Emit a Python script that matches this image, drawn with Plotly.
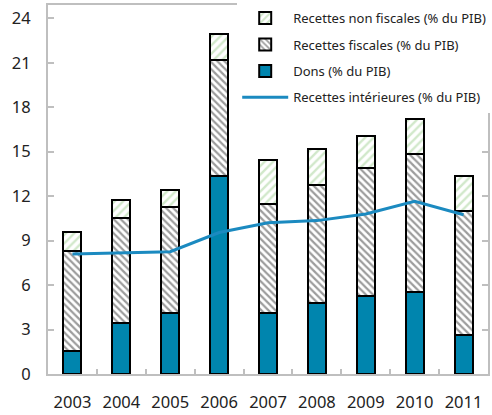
import plotly.graph_objects as go

# Recettes et dons, en % du PIB
annees = ["2003", "2004", "2005", "2006", "2007", "2008", "2009", "2010", "2011"]
dons = [1.55, 3.42, 4.13, 13.35, 4.13, 4.81, 5.28, 5.50, 2.63]
recettes_fiscales = [6.76, 7.12, 7.15, 7.82, 7.37, 7.97, 8.62, 9.33, 8.36]
recettes_non_fiscales = [1.29, 1.19, 1.12, 1.80, 2.93, 2.43, 2.15, 2.37, 2.38]
recettes_interieures = [8.10, 8.20, 8.25, 9.55, 10.20, 10.35, 10.80, 11.65, 10.75]
y_ticks = [0, 3, 6, 9, 12, 15, 18, 21, 24]

TEAL = "#0085AE"
LINE_BLUE = "#1B8AC0"
GRID_GREY = "#BFBFBF"
FONT = "Noto Sans"

fig = go.Figure()

fig.add_trace(go.Bar(
    x=annees, y=dons, name="Dons (% du PIB)",
    marker=dict(color=TEAL, line=dict(color="black", width=2)),
    width=0.37, legendrank=3, legendgroup="c",
))
fig.add_trace(go.Bar(
    x=annees, y=recettes_fiscales, name="Recettes fiscales (% du PIB)",
    marker=dict(
        color="white", line=dict(color="black", width=2),
        pattern=dict(shape="\\", fgcolor="#3A3A3A", bgcolor="white",
                     size=5, solidity=0.45),
    ),
    width=0.37, legendrank=2, legendgroup="b",
))
fig.add_trace(go.Bar(
    x=annees, y=recettes_non_fiscales, name="Recettes non fiscales (% du PIB)",
    marker=dict(
        color="white", line=dict(color="black", width=2),
        pattern=dict(shape="/", fgcolor="#A3D195", bgcolor="white",
                     size=6, solidity=0.4),
    ),
    width=0.37, legendrank=1, legendgroup="a",
))
fig.add_trace(go.Scatter(
    x=annees, y=recettes_interieures, name="Recettes intérieures (% du PIB)",
    mode="lines", line=dict(color=LINE_BLUE, width=3),
    legendrank=4, legendgroup="d",
))

fig.update_layout(
    width=492, height=415,
    margin=dict(l=48, r=1, t=5, b=41),
    barmode="stack",
    plot_bgcolor="white", paper_bgcolor="white",
    font=dict(family=FONT, color="#222222"),
    showlegend=True,
    legend=dict(
        x=0.43, y=1.005, xanchor="left", yanchor="top",
        bgcolor="white", borderwidth=0,
        font=dict(family=FONT, size=13, color="#222222"),
        traceorder="grouped", tracegroupgap=6.5,
        itemwidth=46,
    ),
    xaxis=dict(
        type="category", range=[-0.5, 8.5],
        showline=True, linecolor=GRID_GREY, linewidth=2, mirror=True,
        ticks="inside", tickson="boundaries", ticklen=5,
        tickcolor=GRID_GREY, tickwidth=1.5,
        tickfont=dict(family=FONT, size=16.5, color="#222222"),
        ticklabelstandoff=12,
        showgrid=False, zeroline=False,
    ),
    yaxis=dict(
        range=[0, 24.9], tickvals=y_ticks,
        showline=True, linecolor=GRID_GREY, linewidth=2, mirror="ticks",
        ticks="inside", ticklen=6, tickcolor=GRID_GREY, tickwidth=1.5,
        tickfont=dict(family=FONT, size=16.5, color="#222222"),
        ticklabelstandoff=12,
        showgrid=False, zeroline=False,
    ),
)

fig.write_html("out.html")
